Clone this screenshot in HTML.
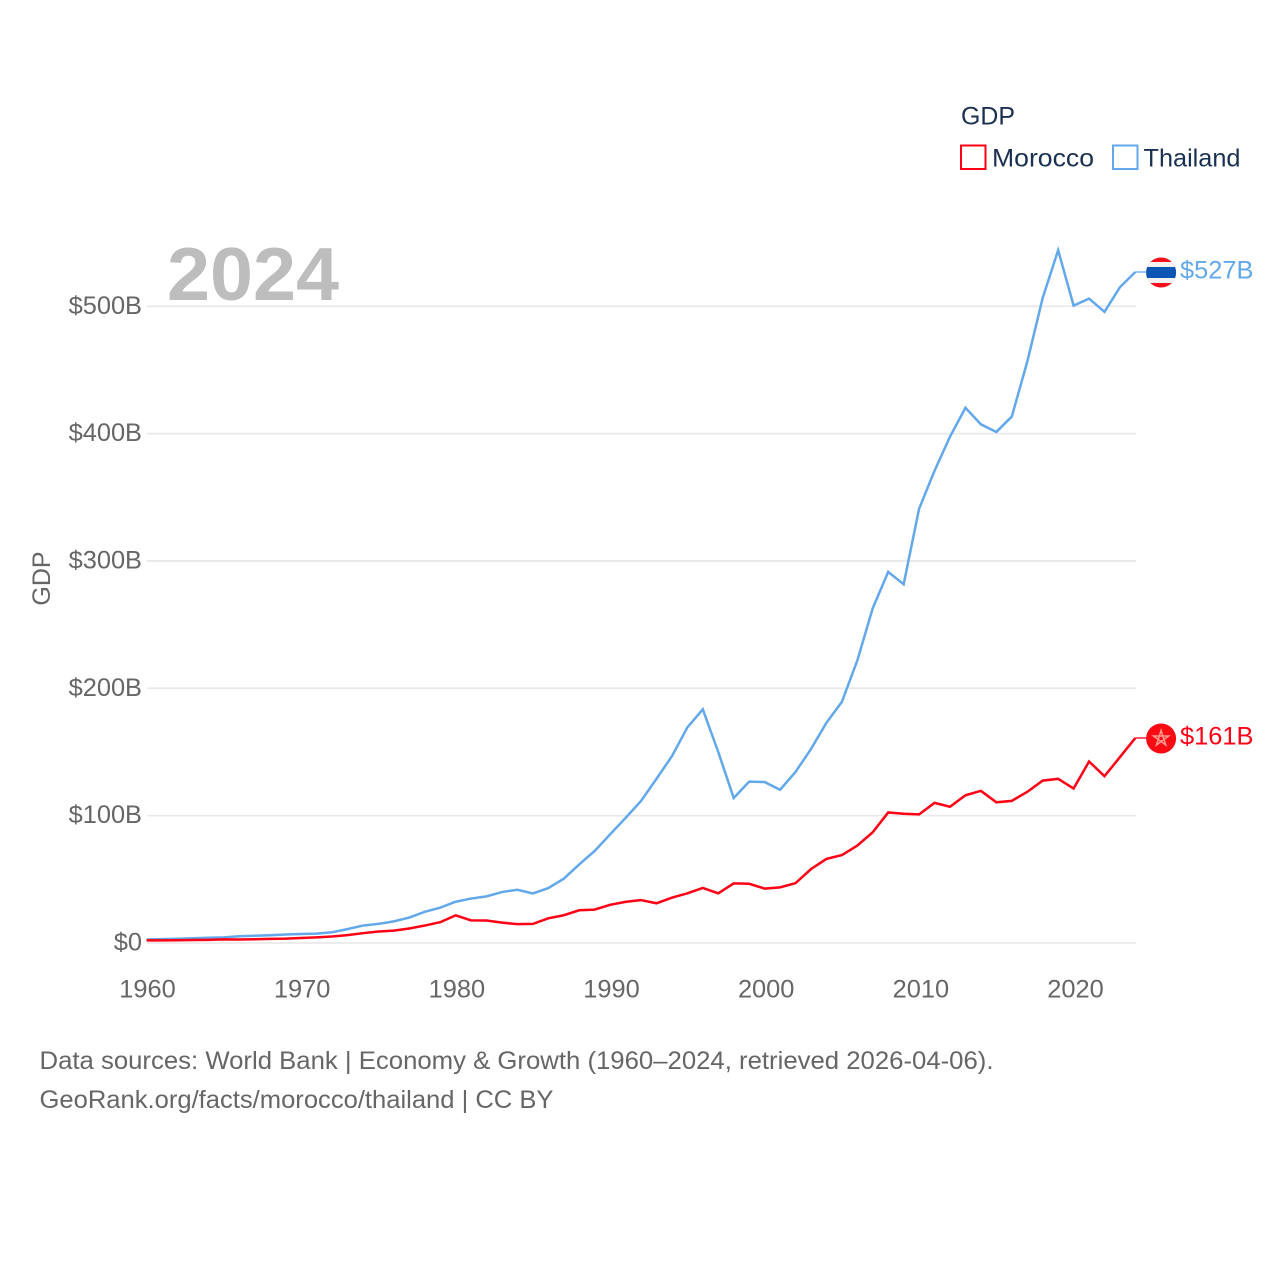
<!DOCTYPE html>
<html lang="en">
<head>
<meta charset="utf-8">
<title>GDP: Morocco vs Thailand</title>
<style>
  html, body { margin: 0; padding: 0; background: #fff; }
  svg { display: block; font-family: "Liberation Sans", sans-serif; }
</style>
</head>
<body>
<svg id="chart" xmlns="http://www.w3.org/2000/svg" width="1280" height="1280" viewBox="0 0 1280 1280">
  <rect x="0" y="0" width="1280" height="1280" fill="#ffffff"/>
  <g id="grid"></g>
  <g id="y-ticks"></g>
  <g id="x-ticks"></g>
  <text x="167" y="300" font-size="75" font-weight="700" fill="#bdbdbd" textLength="172" lengthAdjust="spacingAndGlyphs">2024</text>
  <text transform="translate(50 578.5) rotate(-90)" text-anchor="middle" font-size="25" fill="#666666">GDP</text>

  <path id="line-thailand" fill="none" stroke="#62a8ea" stroke-width="2.5" stroke-linejoin="miter"/>
  <path id="line-morocco" fill="none" stroke="#ff0014" stroke-width="2.5" stroke-linejoin="miter"/>
  <line id="conn-thailand" stroke="#62a8ea" stroke-width="1.3"/>
  <line id="conn-morocco" stroke="#ff0014" stroke-width="1.3"/>

  <defs>
    <clipPath id="thai-clip"><circle cx="0" cy="0" r="15"/></clipPath>
  </defs>
  <g id="flag-thailand">
    <g clip-path="url(#thai-clip)">
      <rect x="-15" y="-15.5" width="30" height="31" fill="#f5101c"/>
      <rect x="-15" y="-10.5" width="30" height="21" fill="#f2f2f2"/>
      <rect x="-15" y="-5.5" width="30" height="11" fill="#0b55b5"/>
    </g>
  </g>
  <g id="flag-morocco">
    <circle cx="0" cy="0" r="15" fill="#fb0a14"/>
    <polygon points="0,-8 4.7,6.5 -7.6,-2.5 7.6,-2.5 -4.7,6.5" fill="none" stroke="#ff9a8e" stroke-width="1.5"/>
  </g>
  <text id="end-thailand" x="1180" font-size="25.4" fill="#62a8ea"></text>
  <text id="end-morocco" x="1180" font-size="25.4" fill="#ff0014"></text>

  <g>
    <text x="961" y="124.5" font-size="25" fill="#1a3050" textLength="54" lengthAdjust="spacingAndGlyphs">GDP</text>
    <rect x="961" y="145.5" width="24.5" height="23.5" fill="none" stroke="#ff0014" stroke-width="2"/>
    <text x="992" y="166.5" font-size="25" fill="#1a3050" textLength="102" lengthAdjust="spacingAndGlyphs">Morocco</text>
    <rect x="1113" y="145.5" width="24.5" height="23.5" fill="none" stroke="#62a8ea" stroke-width="2"/>
    <text x="1143.5" y="166.5" font-size="25" fill="#1a3050" textLength="97" lengthAdjust="spacingAndGlyphs">Thailand</text>
  </g>

  <text x="39.5" y="1069" font-size="25" fill="#666666" textLength="954" lengthAdjust="spacingAndGlyphs">Data sources: World Bank | Economy &amp; Growth (1960–2024, retrieved 2026-04-06).</text>
  <text x="39.5" y="1108" font-size="25" fill="#666666" textLength="514" lengthAdjust="spacingAndGlyphs">GeoRank.org/facts/morocco/thailand | CC BY</text>
</svg>

<script>
const startYear = 1960;
const xTickYears = [1960, 1970, 1980, 1990, 2000, 2010, 2020];
const yTickValues = [0, 100, 200, 300, 400, 500];
const thailandGdp = [2.76, 3.03, 3.3, 3.7, 4.1, 4.4, 5.3, 5.7, 6.1, 6.7, 7.1, 7.4, 8.4, 10.9, 13.7, 15, 17, 20, 24.5, 27.7, 32.4, 34.9, 36.6, 40, 41.8, 38.9, 43.1, 50.5, 61.7, 72.3, 85.3, 98.2, 111.5, 128.9, 146.7, 169.3, 183.5, 150, 113.9, 126.7, 126.4, 120.3, 134.3, 152.3, 172.9, 189.3, 221.8, 262.9, 291.4, 281.7, 341, 370.8, 397.6, 420.3, 407.3, 401.3, 413.4, 456.4, 506.6, 544, 500.5, 506, 495.6, 515, 526.9];
const moroccoGdp = [2.04, 2.04, 2.2, 2.4, 2.5, 2.8, 2.7, 2.9, 3.2, 3.4, 3.9, 4.4, 5.1, 6.2, 7.7, 9, 9.7, 11.4, 13.7, 16.3, 21.7, 17.8, 17.7, 16, 14.8, 15, 19.4, 21.8, 25.7, 26.2, 30, 32.3, 33.7, 31.2, 35.6, 39, 43.2, 39, 46.8, 46.5, 42.7, 43.7, 47, 58, 66, 69, 76.5, 87, 102.5, 101.5, 101, 110, 107, 116, 119.5, 110.5, 111.6, 118.7, 127.5, 128.9, 121.3, 142.5, 131, 146, 161];

const SVG_NS = 'http://www.w3.org/2000/svg';
const xScale = function (year) { return 146.6 + (year - 1960) * 15.45; };
const xLabelScale = function (year) { return 147.5 + (year - 1960) * 15.467; };
const yScale = function (value) { return 943 - value * 1.2735; };

function makeEl(tag, attrs) {
  const el = document.createElementNS(SVG_NS, tag);
  Object.keys(attrs).forEach(function (k) { el.setAttribute(k, attrs[k]); });
  return el;
}

const gridGroup = document.getElementById('grid');
const yTickGroup = document.getElementById('y-ticks');
yTickValues.forEach(function (v) {
  const y = yScale(v);
  const gridLine = makeEl('line', { x1: 147, x2: 1136, y1: y, y2: y, stroke: '#e9e9e9', 'stroke-width': 1.8 });
  
  
  gridGroup.appendChild(gridLine);

  const label = makeEl('text', { x: 142, y: y + 7.5, 'text-anchor': 'end', 'font-size': 25.4, fill: '#666666' });
  
  
  label.textContent = v === 0 ? '$0' : '$' + v + 'B';
  yTickGroup.appendChild(label);
});

const xTickGroup = document.getElementById('x-ticks');
xTickYears.forEach(function (year) {
  const label = makeEl('text', { x: xLabelScale(year), y: 997.5, 'text-anchor': 'middle', 'font-size': 25.4, fill: '#666666' });
  
  
  label.textContent = String(year);
  xTickGroup.appendChild(label);
});

function linePath(values) {
  return values.map(function (v, i) {
    return (i === 0 ? 'M' : 'L') + xScale(startYear + i).toFixed(2) + ' ' + yScale(v).toFixed(2);
  }).join(' ');
}

function drawSeries(key, values) {
  const last = values[values.length - 1];
  const endX = xScale(startYear + values.length - 1);
  const endY = yScale(last);
  document.getElementById('line-' + key).setAttribute('d', linePath(values));
  const conn = document.getElementById('conn-' + key);
  conn.setAttribute('x1', endX);
  conn.setAttribute('x2', endX + 11);
  conn.setAttribute('y1', endY);
  conn.setAttribute('y2', endY);
  document.getElementById('flag-' + key).setAttribute('transform', 'translate(' + (endX + 25.7) + ' ' + (endY + 0.5) + ')');
  const label = document.getElementById('end-' + key);
  label.setAttribute('y', endY + 6.5);
  label.textContent = '$' + Math.round(last) + 'B';
}

drawSeries('thailand', thailandGdp);
drawSeries('morocco', moroccoGdp);
</script>
</body>
</html>
